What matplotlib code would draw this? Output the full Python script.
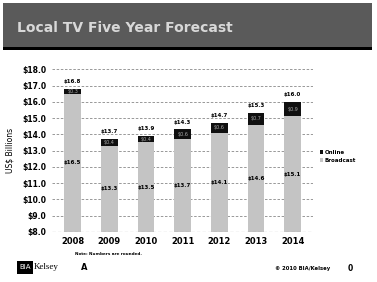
import matplotlib
matplotlib.use('Agg')
import matplotlib.pyplot as plt
from matplotlib.patches import Rectangle

years = ['2008', '2009', '2010', '2011', '2012', '2013', '2014']
broadcast = [16.5, 13.3, 13.5, 13.7, 14.1, 14.6, 15.1]
online = [0.3, 0.4, 0.4, 0.6, 0.6, 0.7, 0.9]
totals = [16.8, 13.7, 13.9, 14.3, 14.7, 15.3, 16.0]
yticks = [8, 9, 10, 11, 12, 13, 14, 15, 16, 17, 18]

fig = plt.figure(figsize=(3.77, 2.82), dpi=100)
fig.patch.set_facecolor('white')

# title banner
fig.patches.append(Rectangle((0.008, 0.83), 0.98, 0.16, transform=fig.transFigure,
                             facecolor='#5a5a5a', edgecolor='none'))
fig.patches.append(Rectangle((0.008, 0.823), 0.98, 0.01, transform=fig.transFigure,
                             facecolor='black', edgecolor='none'))
fig.text(0.33, 0.9, 'Local TV Five Year Forecast', color='#d8d8d8', fontsize=10,
         fontweight='bold', ha='center', va='center')

ax = fig.add_axes([0.138, 0.178, 0.692, 0.576])
x = list(range(len(years)))
w = 0.46
ax.bar(x, broadcast, w, color='#c4c4c4', label='Broadcast', zorder=2)
ax.bar(x, online, w, bottom=broadcast, color='#101010', label='Online', zorder=2)

ax.set_ylim(8, 18)
ax.set_xlim(-0.56, 6.55)
ax.set_yticks(yticks)
ax.set_yticklabels(['${:.1f}'.format(v) for v in yticks], fontsize=5.5, fontweight='bold')
ax.set_xticks(x)
ax.set_xticklabels(years, fontsize=6, fontweight='bold')
ax.tick_params(length=0, pad=4)
ax.yaxis.grid(True, linestyle=(0, (3, 2)), color='#888888', linewidth=0.6, zorder=0)
for s in ax.spines.values():
    s.set_visible(False)
ax.axhline(8, color='#666666', linewidth=0.8, linestyle=(0, (3, 2)), zorder=3)
ax.set_ylabel('US$ Billions', fontsize=5.5, labelpad=6)

for i in x:
    ax.text(i, totals[i] + 0.45, '${:.1f}'.format(totals[i]), ha='center', va='center',
            fontsize=4, fontweight='bold')
    ax.text(i, (8 + broadcast[i]) / 2, '${:.1f}'.format(broadcast[i]), ha='center',
            va='center', fontsize=4, fontweight='bold')
    ax.text(i, broadcast[i] + online[i] / 2, '${:.1f}'.format(online[i]), ha='center',
            va='center', fontsize=3.5, color='#aaaaaa')

h, l = ax.get_legend_handles_labels()
fig.legend(h[::-1], l[::-1], loc='center left', bbox_to_anchor=(0.835, 0.445),
           frameon=False, fontsize=4, handlelength=0.6, handleheight=0.6,
           handletextpad=0.3, labelspacing=0.5, prop={'size': 4, 'weight': 'bold'})

# footer
fig.text(0.2, 0.097, 'Note: Numbers are rounded.', fontsize=3, fontweight='bold')
fig.patches.append(Rectangle((0.045, 0.03), 0.042, 0.045, transform=fig.transFigure,
                             facecolor='black', edgecolor='none'))
fig.text(0.066, 0.052, 'BIA', color='white', fontsize=5, ha='center', va='center')
fig.text(0.09, 0.052, 'Kelsey', fontsize=6.5, family='Liberation Serif', va='center')
fig.text(0.215, 0.052, 'A', fontsize=6, fontweight='bold', va='center')
fig.text(0.73, 0.048, '\u00a9 2010 BIA/Kelsey', fontsize=3.8, fontweight='bold', va='center')
fig.text(0.922, 0.048, '0', fontsize=5.5, fontweight='bold', va='center')

fig.savefig('out.png', dpi=100)
